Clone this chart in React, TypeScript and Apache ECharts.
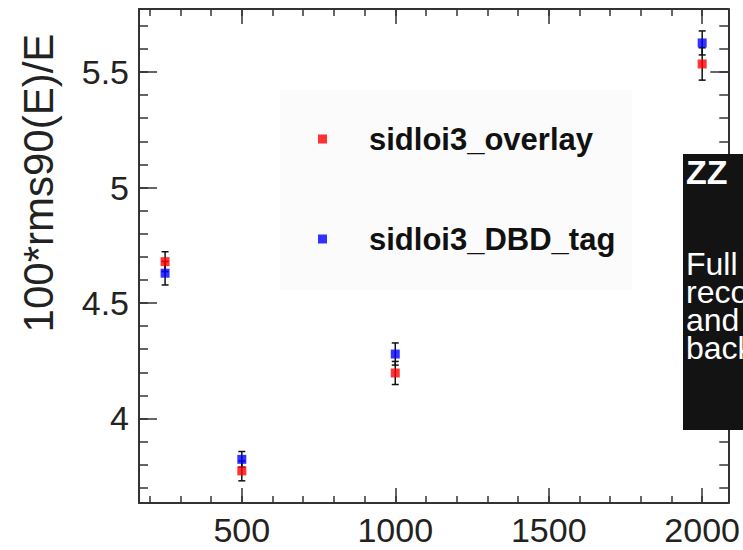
import React, { useEffect, useRef } from "react";
import * as echarts from "echarts";

const energies = [250, 500, 1000, 2000];
const overlayValues = [4.679, 3.773, 4.197, 5.535];
const overlayErrors = [0.043, 0.043, 0.05, 0.07];
const dbdValues = [4.629, 3.823, 4.279, 5.626];
const dbdErrors = [0.051, 0.034, 0.048, 0.052];

const xMajorTicks = [500, 1000, 1500, 2000];
const xMinorTicks = [200, 300, 400, 500, 600, 700, 800, 900, 1000, 1100, 1200, 1300, 1400, 1500, 1600, 1700, 1800, 1900, 2000];
const yMajorTicks = [4, 4.5, 5, 5.5];
const yMinorTicks = [3.7, 3.8, 3.9, 4, 4.1, 4.2, 4.3, 4.4, 4.5, 4.6, 4.7, 4.8, 4.9, 5, 5.1, 5.2, 5.3, 5.4, 5.5, 5.6, 5.7];

const seriesNames = ["sidloi3_overlay", "sidloi3_DBD_tag"];
const yTitle = "100*rms90(E)/E";
const noteTitle = "ZZ";
const noteBody = ["Full simulation,", "reconstruction", "and", "background"];

const FONT = "'Liberation Sans', Arial, Helvetica, sans-serif";
const AXIS_COLOR = "#333";

function makeXAxis(position: string, ticks: number[], len: number, showLine: boolean, labels: boolean) {
  return {
    type: "value",
    position,
    min: 165,
    max: 2085,
    axisLine: { show: showLine, onZero: false, lineStyle: { color: AXIS_COLOR, width: 2 } },
    axisTick: { show: true, inside: true, length: len, customValues: ticks, lineStyle: { color: AXIS_COLOR, width: 1.5 } },
    axisLabel: labels
      ? { show: true, customValues: xMajorTicks, fontSize: 34, color: "#222", margin: 10, fontFamily: FONT, formatter: (v: number) => String(v) }
      : { show: false },
    splitLine: { show: false },
  };
}

function makeYAxis(position: string, ticks: number[], len: number, showLine: boolean, labels: boolean) {
  return {
    type: "value",
    position,
    min: 3.634,
    max: 5.773,
    axisLine: { show: showLine, onZero: false, lineStyle: { color: AXIS_COLOR, width: 2 } },
    axisTick: { show: true, inside: true, length: len, customValues: ticks, lineStyle: { color: AXIS_COLOR, width: 1.5 } },
    axisLabel: labels
      ? { show: true, customValues: yMajorTicks, fontSize: 34, color: "#222", margin: 10, fontFamily: FONT, formatter: (v: number) => String(v) }
      : { show: false },
    splitLine: { show: false },
  };
}

function errorBarSeries(name: string, values: number[], errors: number[]) {
  return {
    name: name + "_err",
    type: "custom",
    xAxisIndex: 0,
    yAxisIndex: 0,
    z: 3,
    silent: true,
    clip: false,
    encode: { x: 0, y: [1, 2] },
    data: energies.map((x, i) => [x, values[i] - errors[i], values[i] + errors[i]]),
    renderItem: (params: any, api: any) => {
      const x = api.value(0);
      const lo = api.coord([x, api.value(1)]);
      const hi = api.coord([x, api.value(2)]);
      const cap = 3.5;
      const st = { stroke: "#111", lineWidth: 1.5 };
      return {
        type: "group",
        children: [
          { type: "line", shape: { x1: lo[0], y1: lo[1], x2: hi[0], y2: hi[1] }, style: st },
          { type: "line", shape: { x1: lo[0] - cap, y1: lo[1], x2: lo[0] + cap, y2: lo[1] }, style: st },
          { type: "line", shape: { x1: hi[0] - cap, y1: hi[1], x2: hi[0] + cap, y2: hi[1] }, style: st },
        ],
      };
    },
  };
}

function legendFor(name: string, top: number) {
  return {
    data: [name],
    left: 318,
    top,
    orient: "vertical",
    padding: 0,
    itemWidth: 9,
    itemHeight: 9,
    icon: "rect",
    selectedMode: false,
    textStyle: { fontSize: 31, fontWeight: "bold", color: "#111", fontFamily: FONT, lineHeight: 32, padding: [0, 0, 0, 37] },
  };
}

export default function App() {
  const ref = useRef<HTMLDivElement>(null);

  useEffect(() => {
    if (!ref.current) return;
    const chart = echarts.init(ref.current, null, { renderer: "svg" });

    chart.setOption({
      animation: false,
      backgroundColor: "#ffffff",
      grid: { left: 139, top: 9, right: 14, bottom: 47, containLabel: false },
      xAxis: [
        makeXAxis("bottom", xMajorTicks, 15, true, true),
        makeXAxis("bottom", xMinorTicks, 7, false, false),
        makeXAxis("top", xMajorTicks, 15, true, false),
        makeXAxis("top", xMinorTicks, 7, false, false),
      ],
      yAxis: [
        makeYAxis("left", yMajorTicks, 18, true, true),
        makeYAxis("left", yMinorTicks, 9, false, false),
        makeYAxis("right", yMajorTicks, 18, true, false),
        makeYAxis("right", yMinorTicks, 9, false, false),
      ],
      legend: [legendFor(seriesNames[0], 123), legendFor(seriesNames[1], 223)],
      graphic: [
        {
          type: "rect",
          z: -1,
          silent: true,
          shape: { x: 280, y: 90, width: 352, height: 200 },
          style: { fill: "#fbfbfb" },
        },
        {
          type: "text",
          x: 38,
          y: 183,
          rotation: Math.PI / 2,
          style: { text: yTitle, fontSize: 42, fill: "#222", fontFamily: FONT, align: "center", verticalAlign: "middle" },
        },
        {
          type: "rect",
          z: 100,
          shape: { x: 683, y: 154, width: 80, height: 276 },
          style: { fill: "#131313" },
        },
        {
          type: "text",
          z: 101,
          x: 686,
          y: 172,
          style: { text: noteTitle, fontSize: 34, fontWeight: "bold", fill: "#ffffff", fontFamily: FONT, align: "left", verticalAlign: "middle" },
        },
        {
          type: "text",
          z: 101,
          x: 686,
          y: 250,
          style: {
            text: noteBody.join("\n"),
            fontSize: 32,
            lineHeight: 28,
            fill: "#ffffff",
            fontFamily: FONT,
            align: "left",
            verticalAlign: "top",
          },
        },
      ],
      series: [
        errorBarSeries(seriesNames[0], overlayValues, overlayErrors),
        errorBarSeries(seriesNames[1], dbdValues, dbdErrors),
        {
          name: seriesNames[0],
          type: "scatter",
          xAxisIndex: 0,
          yAxisIndex: 0,
          z: 5,
          symbol: "rect",
          symbolSize: 9,
          itemStyle: { color: "#ff0000" },
          data: energies.map((x, i) => [x, overlayValues[i]]),
        },
        {
          name: seriesNames[1],
          type: "scatter",
          xAxisIndex: 0,
          yAxisIndex: 0,
          z: 6,
          symbol: "rect",
          symbolSize: 9,
          itemStyle: { color: "#0000ff" },
          data: energies.map((x, i) => [x, dbdValues[i]]),
        },
      ],
    });

    return () => chart.dispose();
  }, []);

  return (
    <div
      ref={ref}
      style={{ position: "absolute", left: 0, top: 0, width: 743, height: 550, overflow: "hidden", background: "#fff" }}
    />
  );
}
